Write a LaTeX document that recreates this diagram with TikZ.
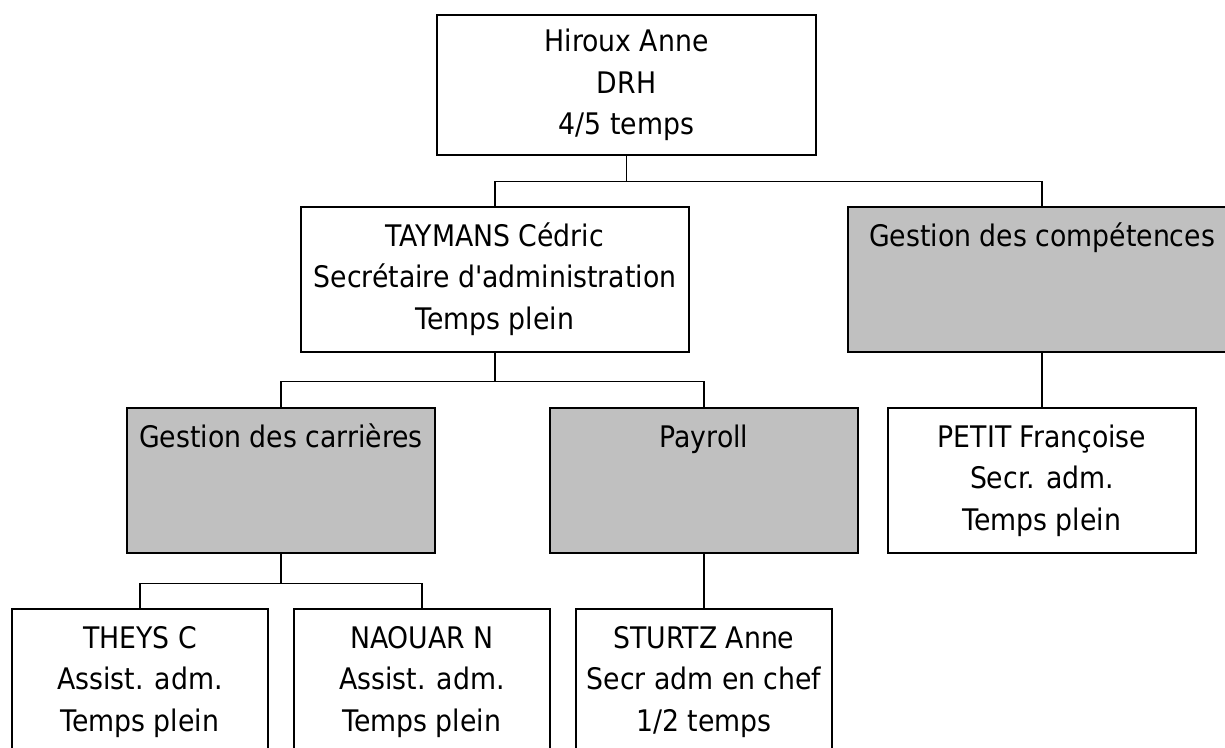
\documentclass[tikz,border=0pt]{standalone}
\usepackage{fontspec}
\newfontfamily\orgfont{DejaVu Sans Condensed}
\usetikzlibrary{positioning}
\definecolor{servicegris}{RGB}{192,192,192}
\newcommand{\troislignes}[3]{\strut#1\\\strut#2\\\strut#3}

\tikzset{
  poste/.style={draw, line width=1.6pt, fill=white, minimum width=308pt, minimum height=145pt,
    inner sep=0pt, align=center, font=\orgfont\fontsize{29.7pt}{41.5pt}\selectfont},
  service/.style={poste, fill=servicegris},
  lien/.style={line width=1.3pt}
}

\begin{document}
\begin{tikzpicture}[x=1pt, y=-1pt]
        \useasboundingbox (0,0) rectangle (1225,747);
        \clip (0,0) rectangle (1225,747);

        \node[poste, minimum width=379pt, minimum height=140pt] (hiroux) at (626.5,85) {\troislignes{Hiroux Anne}{DRH}{4/5 temps}};

        \node[poste, minimum width=388pt] (taymans) at (495,279.5) {\troislignes{TAYMANS Cédric}{Secrétaire d'administration}{Temps plein}};
        \node[service, minimum width=388pt] (gcomp) at (1042,279.5) {\troislignes{Gestion des compétences}{}{}};

        \node[service] (gcarr) at (281,480.5) {\troislignes{Gestion des carrières}{}{}};
        \node[service] (payroll) at (704,480.5) {\troislignes{Payroll}{}{}};
        \node[poste] (petit) at (1042,480.5) {\troislignes{PETIT Françoise}{Secr. adm.}{Temps plein}};

        \node[poste, minimum width=256pt] (theys) at (140,681.5) {\troislignes{THEYS C}{Assist. adm.}{Temps plein}};
        \node[poste, minimum width=256pt] (naouar) at (422,681.5) {\troislignes{NAOUAR N}{Assist. adm.}{Temps plein}};
        \node[poste, minimum width=256pt] (sturtz) at (704,681.5) {\troislignes{STURTZ Anne}{Secr adm en chef}{1/2 temps}};

        \draw[lien] (hiroux.south) -- ++(0,26) -| (taymans.north);
        \draw[lien] (hiroux.south) -- ++(0,26) -| (gcomp.north);
        \draw[lien] (taymans.south) -- ++(0,29) -| (gcarr.north);
        \draw[lien] (taymans.south) -- ++(0,29) -| (payroll.north);
        \draw[lien] (gcomp.south) -- (petit.north);
        \draw[lien] (gcarr.south) -- ++(0,30) -| (theys.north);
        \draw[lien] (gcarr.south) -- ++(0,30) -| (naouar.north);
        \draw[lien] (payroll.south) -- (sturtz.north);

    \end{tikzpicture}
\end{document}
